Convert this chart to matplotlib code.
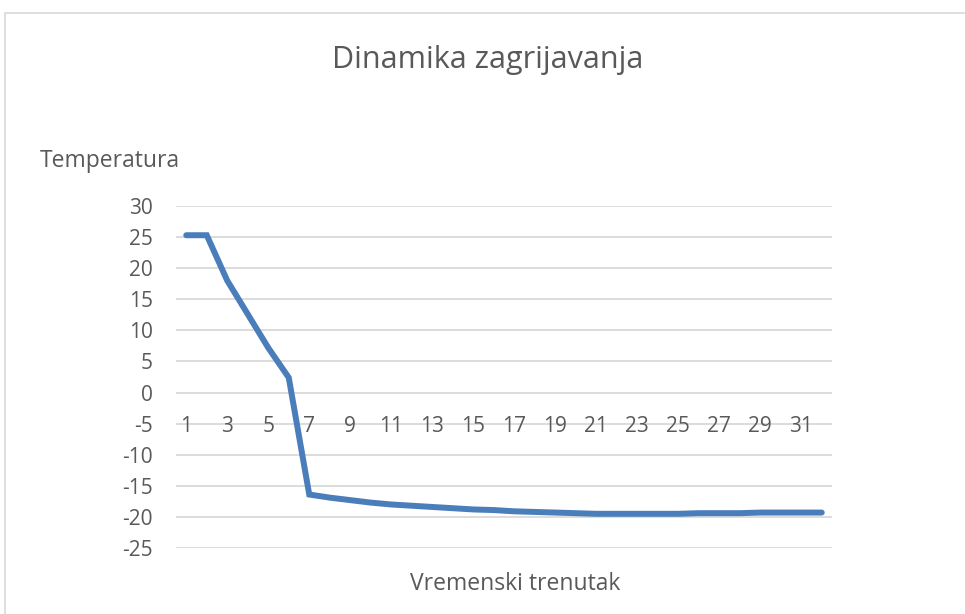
import matplotlib
matplotlib.use("Agg")
import matplotlib.pyplot as plt
from matplotlib.patches import Rectangle

title = "Dinamika zagrijavanja"
y_label = "Temperatura"
x_label = "Vremenski trenutak"
time_points = list(range(1, 33))
temperature = [25.3, 25.3, 18.0, 12.6, 7.2, 2.4, -16.4, -16.9, -17.3, -17.7,
               -18.0, -18.2, -18.4, -18.6, -18.8, -18.9, -19.1, -19.2, -19.3, -19.4,
               -19.5, -19.5, -19.5, -19.5, -19.5, -19.4, -19.4, -19.4, -19.3, -19.3,
               -19.3, -19.3]
y_ticks = [30, 25, 20, 15, 10, 5, 0, -5, -10, -15, -20, -25]
x_tick_labels = [str(i) for i in range(1, 33, 2)]

plt.rcParams['font.family'] = ['Open Sans', 'DejaVu Sans']
text_color = '#595959'
grid_color = '#d9d9d9'
line_color = '#4a7ebb'

W, H = 965, 614
fig = plt.figure(figsize=(W / 100, H / 100), dpi=100)
fig.patch.set_facecolor('white')

# chart border (cropped at right and bottom)
fig.patches.append(Rectangle((5 / W, -0.1), 1.2, (H - 13) / H + 0.1,
                             transform=fig.transFigure, fill=False,
                             edgecolor=grid_color, linewidth=1.2))

left, right, top, bottom = 176, 832, 206, 548
ax = fig.add_axes([left / W, 1 - bottom / H, (right - left) / W, (bottom - top) / H])
ax.set_xlim(0.5, 32.5)
ax.set_ylim(-25, 30)
ax.set_yticks(y_ticks)
ax.set_yticklabels([str(v) for v in y_ticks])
for yv in y_ticks:
    ax.axhline(yv, color=grid_color, linewidth=1.3, zorder=1)

ax.plot(time_points, temperature, color=line_color, linewidth=4.3,
        solid_capstyle='round', solid_joinstyle='miter', zorder=3)

for s in ax.spines.values():
    s.set_visible(False)
ax.spines['bottom'].set_position(('data', -5))
ax.set_xticks(list(range(1, 33, 2)))
ax.set_xticklabels(x_tick_labels)
ax.tick_params(axis='x', length=0, pad=2, labelsize=15, colors=text_color)
for lab in ax.get_xticklabels():
    lab.set_verticalalignment('center')
ax.tick_params(axis='y', length=0, pad=16.5, labelsize=15, colors=text_color)

fig.text(488 / W, 1 - 60 / H, title, ha='center', va='center',
         fontsize=22, color=text_color)
fig.text(40 / W, 1 - 161 / H, y_label, ha='left', va='center',
         fontsize=16.5, color=text_color)
fig.text(515 / W, 1 - 584 / H, x_label, ha='center', va='center',
         fontsize=16.5, color=text_color)

fig.savefig('out.png', dpi=100, facecolor='white')
